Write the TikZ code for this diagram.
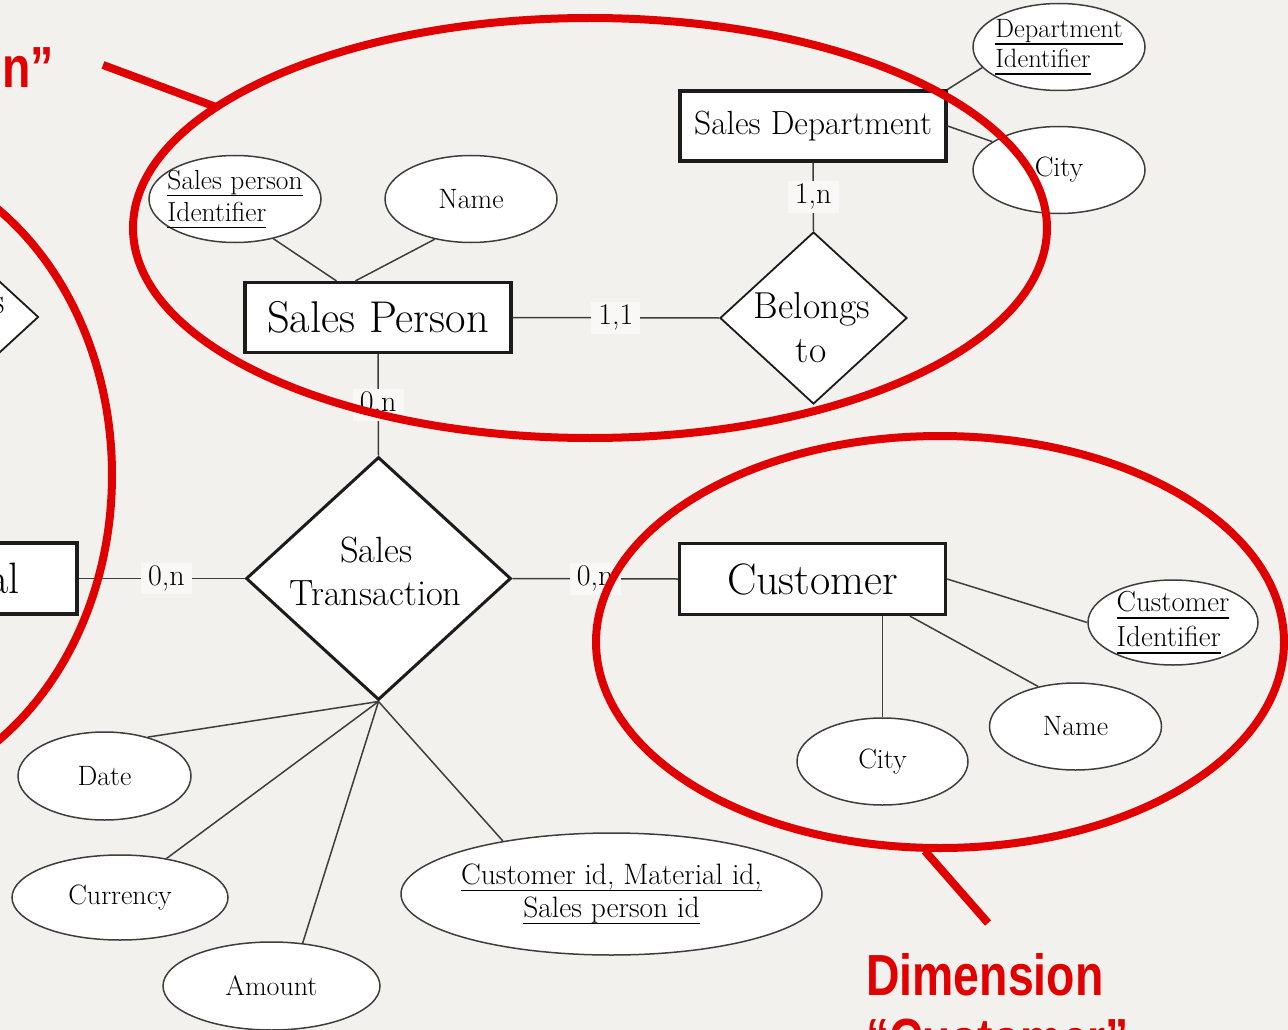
\documentclass[tikz,border=0pt]{standalone}
\usepackage{fontspec}
\usetikzlibrary{shapes.geometric,calc}
\newfontfamily\calloutfont[FakeStretch=0.8]{Liberation Sans}
\definecolor{paper}{HTML}{F2F1EE}
\definecolor{mark}{HTML}{E00000}
\definecolor{ink}{HTML}{1C1C1C}
\definecolor{tagfill}{HTML}{F9F8F6}
\newsavebox\keybox
\newcommand\keyline[1]{\sbox\keybox{#1}\rlap{\rule[-7pt]{\wd\keybox}{1.6pt}}\usebox\keybox}
\begin{document}
\begin{tikzpicture}[x=1pt,y=-1pt,
  entity/.style={draw=ink, line width=3.2pt, fill=white, rectangle, inner sep=0pt,
    minimum width=266pt, minimum height=70pt},
  attr/.style={draw=ink!85, line width=1.5pt, fill=white, ellipse, inner sep=0pt,
    minimum width=172pt, minimum height=87pt},
  rel/.style={draw=ink, fill=white, diamond, inner sep=0pt},
  conn/.style={draw=ink!85, line width=1.5pt},
  card/.style={fill=tagfill, inner xsep=7pt, inner ysep=3pt, font=\fontsize{30}{30}\selectfont},
  attrtext/.style={font=\fontsize{28}{32}\selectfont, inner sep=0pt},
  keytext/.style={font=\fontsize{27.5}{32}\selectfont, align=left, inner sep=0pt},
  diatext/.style={font=\fontsize{37.5}{44}\selectfont, inner sep=0pt, anchor=base},
  callout/.style={draw=mark, line width=8pt},
  callouttext/.style={text=mark, inner sep=0pt, font=\calloutfont\bfseries\fontsize{58}{64}\selectfont}]
\useasboundingbox (0,0) rectangle (1288,1030);
\fill[paper] (0,0) rectangle (1288,1030);

% entities
\node[entity] (dept) at (813,126) {\fontsize{33.5}{40}\selectfont Sales Department};
\node[entity] (sp) at (378,317.5) {\fontsize{44.5}{50}\selectfont Sales Person};
\node[entity, minimum height=71pt] (cust) at (812.5,579) {\fontsize{44}{50}\selectfont Customer};
\node[entity, minimum width=264pt, minimum height=71pt] (mat) at (-55,578.5) {\fontsize{44}{50}\selectfont Material};

% relationships
\node[rel, line width=1.8pt, minimum width=187pt, minimum height=172pt] (bel) at (813.5,318) {};
\node[diatext] (bel1) at (812,318) {Belongs};
\node[diatext] (bel2) at (811,362) {to};
\node[rel, line width=3pt, minimum width=265pt, minimum height=243pt] (st) at (378.5,578.5) {};
\node[diatext, font=\fontsize{36.5}{43}\selectfont] (st1) at (376.5,562) {Sales};
\node[diatext, font=\fontsize{36.5}{43}\selectfont] (st2) at (375.5,605) {Transaction};
\node[rel, line width=1.8pt, minimum width=187pt, minimum height=172pt] (own) at (-55,317) {};
\node[diatext, anchor=base east] (own1) at (5,313) {s};

% attributes
\node[attr, label={[keytext]center:{\keyline{Sales person}\\\keyline{Identifier}}}] (spid) at (235,199) {};
\node[attr, label={[attrtext]center:Name}] (spname) at (471,199) {};
\node[attr, label={[keytext, font=\fontsize{26.5}{30}\selectfont]center:{\keyline{Department}\\\keyline{Identifier}}}] (deptid) at (1059,47) {};
\node[attr, label={[attrtext]center:City}] (deptcity) at (1059,170) {};
\node[attr, minimum width=170pt, minimum height=85pt, label={[keytext, font=\fontsize{29}{35}\selectfont]center:{\keyline{Customer}\\\keyline{Identifier}}}] (custid) at (1173,622.5) {};
\node[attr, label={[attrtext]center:Name}] (custname) at (1075.5,726.5) {};
\node[attr, minimum width=171pt, label={[attrtext]center:City}] (custcity) at (882.5,761.5) {};
\node[attr, minimum width=173pt, minimum height=88pt, label={[attrtext]center:Date}] (date) at (104.5,776) {};
\node[attr, minimum width=216pt, minimum height=85pt, label={[attrtext]center:Currency}] (curr) at (120,897.5) {};
\node[attr, minimum width=217pt, minimum height=88pt, label={[attrtext]center:Amount}] (amount) at (271.5,986) {};
\node[attr, minimum width=421pt, minimum height=122pt, label={[keytext, align=center, font=\fontsize{29.5}{33}\selectfont]center:{\keyline{Customer id, Material id,}\\\keyline{Sales person id}}}] (key) at (611.5,894) {};

% attribute links
\draw[conn] (spid.-46) -- ($(sp.north west)+(93,0)$);
\draw[conn] (spname.228) -- ($(sp.north west)+(112,0)$);
\draw[conn] (deptid.195) -- (dept.north east);
\draw[conn] (deptcity.157) -- (dept.east);
\draw[conn] (cust.east) -- (custid.west);
\draw[conn] ($(cust.south west)+(232,0)$) -- (custname.133);
\draw[conn] (custcity.north) -- (custcity.north |- cust.south);
\draw[conn] (st.south) -- (date.42);
\draw[conn] (st.south) -- (curr.40);
\draw[conn] (st.south) -- (amount.54);
\draw[conn] (st.south) -- (key.154);

% relationship links with cardinalities
\draw[conn] (sp.east) -- node[card] (c11) {1,1} (bel.west);
\draw[conn] (dept.south) -- node[card] (c1n) {1,n} (bel.north);
\draw[conn] (sp.south) -- node[card] (c0a) {0,n} (st.north);
\draw[conn] (st.east) -- node[card] (c0b) {0,n} (cust.west);
\draw[conn] (mat.east) -- node[card, pos=0.53] (c0c) {0,n} (st.west);

% dimension callouts
\draw[callout] (590,228) ellipse [x radius=457, y radius=210];
\draw[callout] (940,642) ellipse [x radius=344, y radius=206];
\draw[callout] (-150,475) ellipse [x radius=262, y radius=322];
\coordinate (tagsp) at (103,65);
\coordinate (ringsp) at (216,107);
\draw[callout] (tagsp) -- (ringsp);
\coordinate (ringcust) at (925,851);
\coordinate (tagcust) at (988,923);
\draw[callout] (ringcust) -- (tagcust);
\node[callouttext, anchor=base east] (dimsp) at (54,88) {n”};
\node[callouttext, anchor=base west] (dimcust1) at (866,995) {Dimension};
\node[callouttext, anchor=base west] (dimcust2) at (866,1059) {“Customer”};
\end{tikzpicture}
\end{document}
